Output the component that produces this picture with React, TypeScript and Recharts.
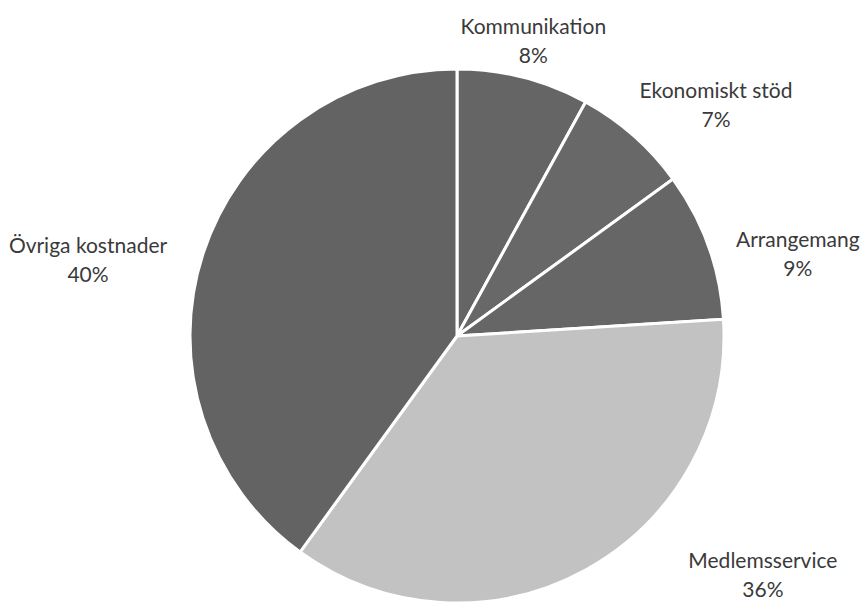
import React from "react";
import { PieChart, Pie, Cell } from "recharts";

const categories = ["Kommunikation", "Ekonomiskt stöd", "Arrangemang", "Medlemsservice", "Övriga kostnader"];
const shares = [8, 7, 9, 36, 40];

const sliceColors = ["#656565", "#686868", "#666666", "#c2c2c2", "#636363"];
// label nudges relative to a radial anchor (layout only)
const labelNudges = [
  { dx: 0, dy: 2 },
  { dx: 56, dy: -1 },
  { dx: 52, dy: 22 },
  { dx: 158, dy: -30 },
  { dx: -77, dy: 19 },
];

const data = categories.map((name, i) => ({ name, value: shares[i] }));
const RAD = Math.PI / 180;

const renderLabel = (props: any) => {
  const { cx, cy, midAngle, outerRadius, percent, index, name } = props;
  const R = outerRadius + 40;
  const ax = cx + R * Math.cos(-midAngle * RAD);
  const ay = cy + R * Math.sin(-midAngle * RAD);
  const n = labelNudges[index] || { dx: 0, dy: 0 };
  const x = ax + n.dx;
  const y = ay + n.dy;
  return (
    <text
      x={x}
      y={y - 7}
      textAnchor="middle"
      fill="#3a3a3a"
      style={{ fontFamily: "Lato, 'Open Sans', sans-serif", fontSize: 21 }}
    >
      <tspan x={x} y={y - 7}>{name}</tspan>
      <tspan x={x} y={y + 22}>{`${Math.round(percent * 100)}%`}</tspan>
    </text>
  );
};

export default function App() {
  return (
    <div style={{ position: "absolute", left: 0, top: 0, width: 866, height: 605, background: "#fff" }}>
      <PieChart width={866} height={605} margin={{ top: 0, right: 0, bottom: 0, left: 0 }}>
        <Pie
          data={data}
          dataKey="value"
          nameKey="name"
          cx={457}
          cy={336}
          outerRadius={267}
          startAngle={90}
          endAngle={-270}
          stroke="#ffffff"
          strokeWidth={3}
          label={renderLabel}
          labelLine={false}
          isAnimationActive={false}
        >
          {data.map((d, i) => (
            <Cell key={d.name} fill={sliceColors[i]} />
          ))}
        </Pie>
      </PieChart>
    </div>
  );
}
